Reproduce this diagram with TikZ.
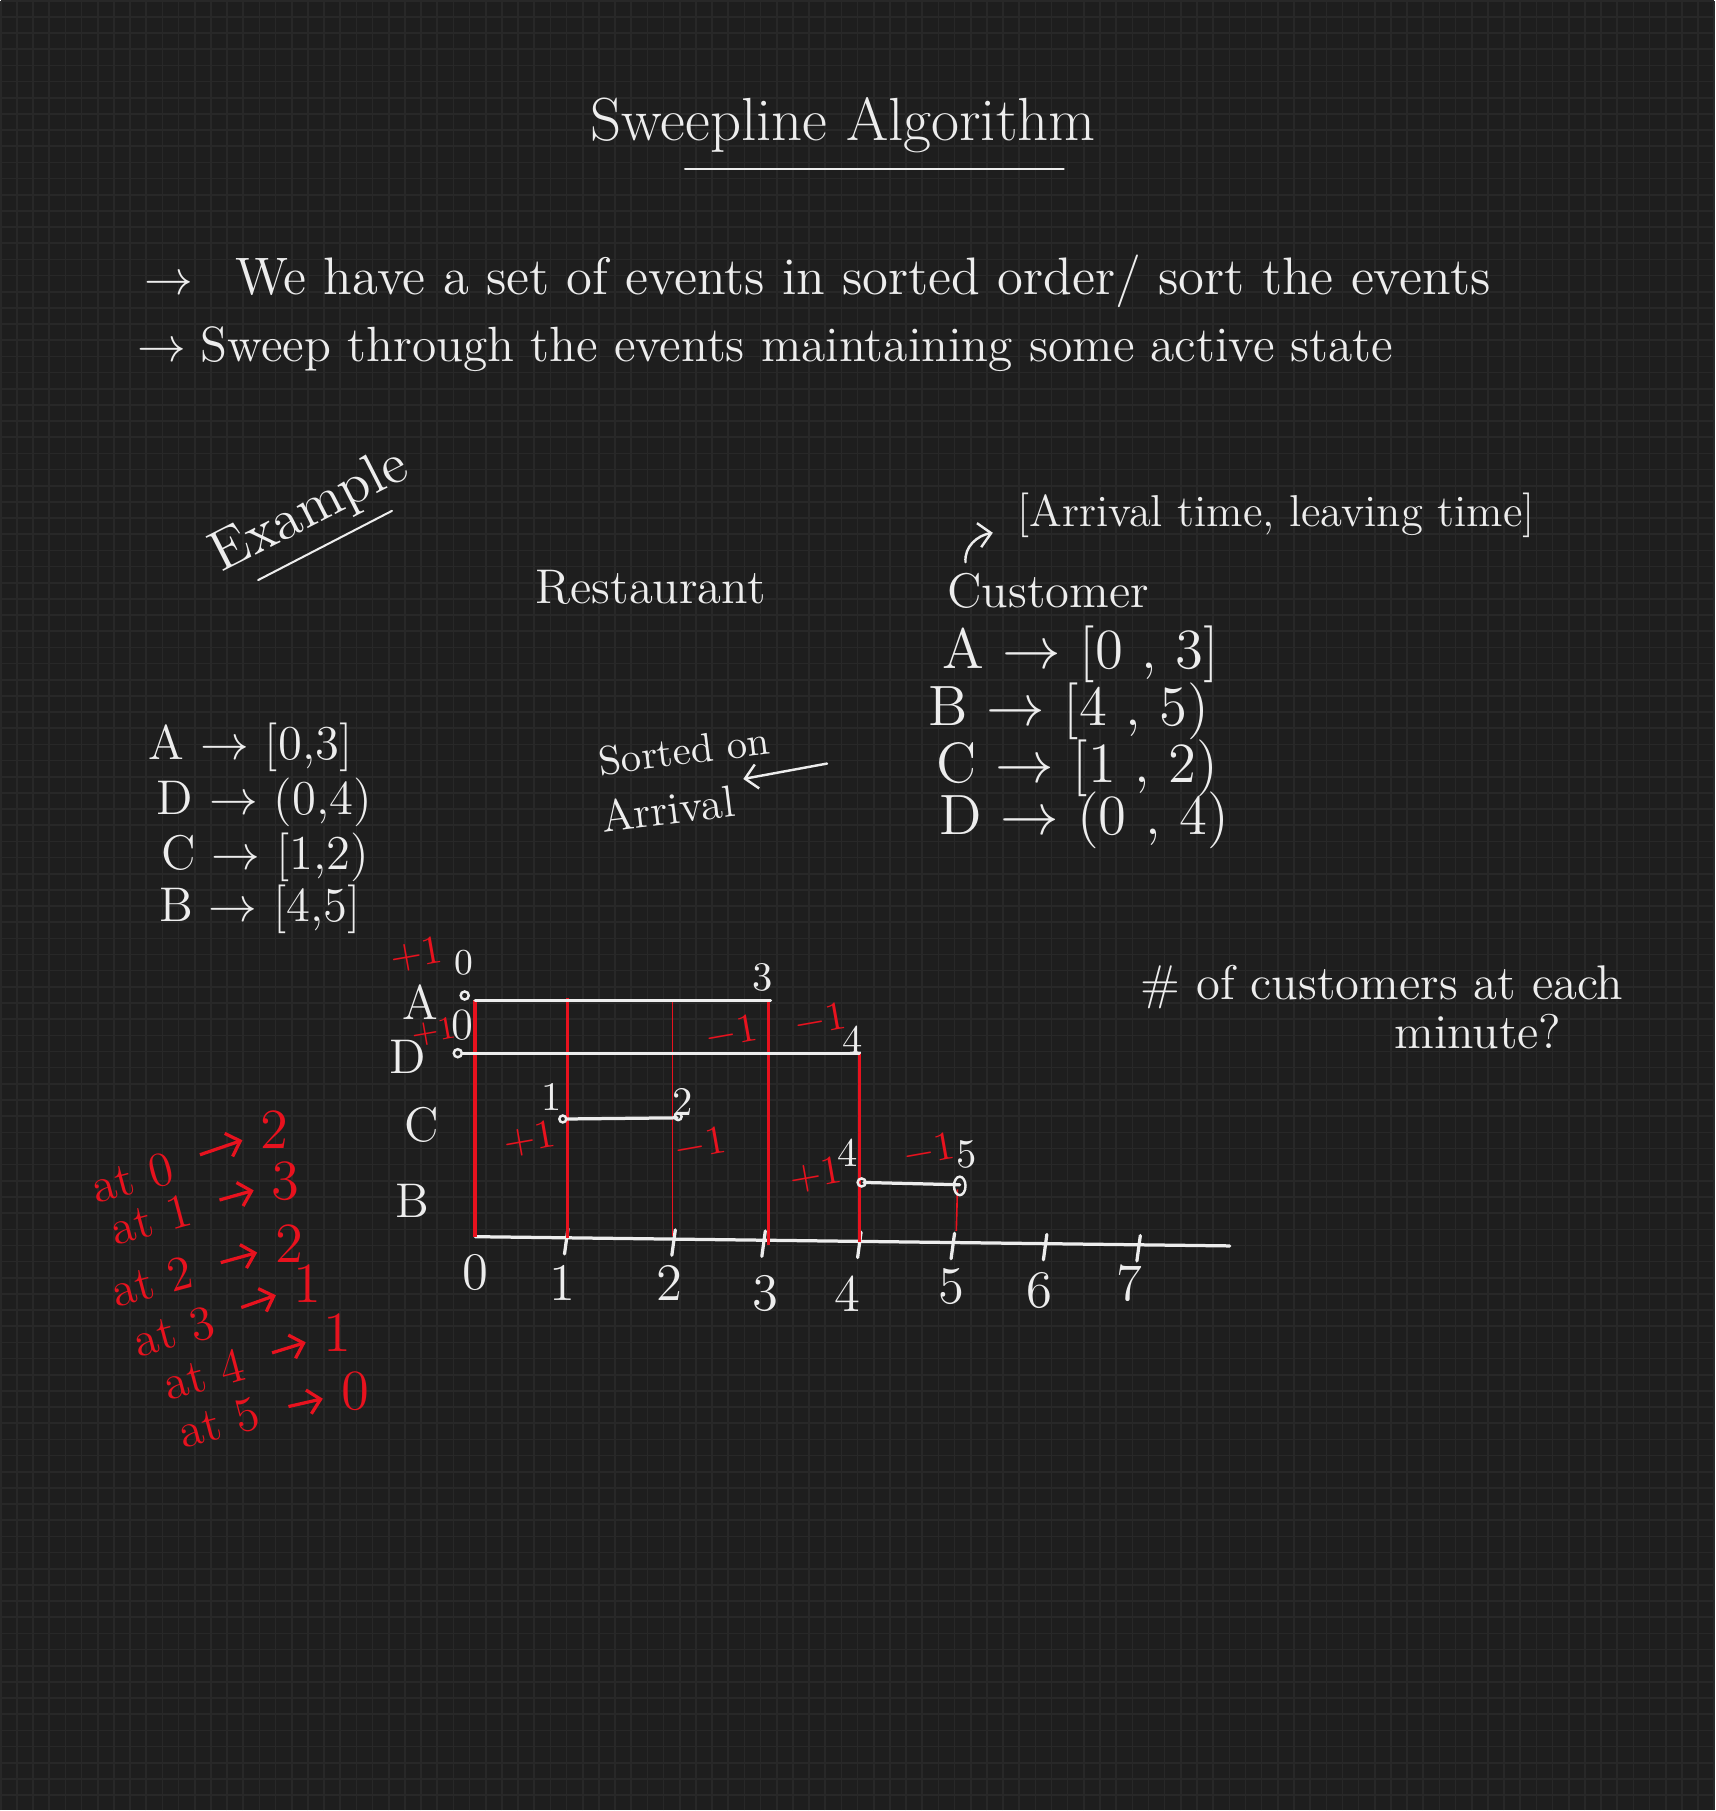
\documentclass[tikz,border=0pt]{standalone}
\usepackage{tikz}
\usetikzlibrary{arrows.meta}
\definecolor{board}{HTML}{1E1E1E}
\definecolor{boardgrid}{HTML}{282828}
\definecolor{chalk}{HTML}{EDEDED}
\definecolor{ink}{HTML}{E8121E}
\tikzset{
  chalkline/.style={draw=chalk,line width=0.8pt,line cap=round},
  redline/.style={draw=ink,line width=0.8pt},
  note/.style={text=chalk,inner sep=1pt},
  rednote/.style={text=ink,inner sep=1pt},
  hand/.style={-{Straight Barb[length=3pt,width=6pt]}},
}

\begin{document}
\begin{tikzpicture}[x=0.01cm,y=-0.01cm]
\fill[board] (0,0) rectangle (1485,1568);
\draw[boardgrid,line width=0.4pt,step=0.14cm] (0,0) grid (1485,1568);
\useasboundingbox (0,0) rectangle (1485,1568);

% heading and the two statements
\node[note,font=\fontsize{15}{18}\selectfont] (title) at (730,108) {Sweepline Algorithm};
\draw[chalkline,line width=0.6pt] (593,146) -- (921,146);
\node[note,anchor=west,font=\fontsize{13}{15}\selectfont] (idea1) at (120,243) {$\rightarrow$\hspace{0.8em}We have a set of events in sorted order/ sort the events};
\node[note,anchor=west,font=\fontsize{12.2}{15}\selectfont] (idea2) at (114,302) {$\rightarrow$\hspace{0.3em}Sweep through the events maintaining some active state};

% example
\node[note,rotate=27,font=\fontsize{14}{17}\selectfont] (ex) at (268,443) {Example};
\draw[chalkline,line width=0.5pt] (223,502) -- (339,442);
\node[note,font=\fontsize{12}{15}\selectfont] (rest) at (563,508) {Restaurant};

% customers as given
\node[note,font=\fontsize{11}{13}\selectfont] (tuple) at (1105,446) {[Arrival time, leaving time]};
\node[note,anchor=west,font=\fontsize{12}{14}\selectfont] (cust) at (816,511) {Customer};
\draw[chalkline,line width=0.6pt,hand] ([xshift=0.2cm,yshift=0.05cm]cust.north west) to[out=95,in=190] ([xshift=-0.17cm,yshift=-0.15cm]tuple.west);
\node[note,anchor=west,font=\fontsize{14}{16}\selectfont] (cA) at (812,566) {A $\rightarrow$ [0 , 3]};
\node[note,anchor=west,font=\fontsize{14}{16}\selectfont] (cB) at (800,616) {B $\rightarrow$ [4 , 5)};
\node[note,anchor=west,font=\fontsize{14}{16}\selectfont] (cC) at (807,665) {C $\rightarrow$ [1 , 2)};
\node[note,anchor=west,font=\fontsize{14}{16}\selectfont] (cD) at (809,710) {D $\rightarrow$ (0 , 4)};

% customers sorted
\node[note,anchor=west,font=\fontsize{12}{14}\selectfont] (sA) at (124,647) {A $\rightarrow$ [0,3]};
\node[note,anchor=west,font=\fontsize{12}{14}\selectfont] (sD) at (131,695) {D $\rightarrow$ (0,4)};
\node[note,anchor=west,font=\fontsize{12}{14}\selectfont] (sC) at (135,742) {C $\rightarrow$ [1,2)};
\node[note,anchor=west,font=\fontsize{12}{14}\selectfont] (sB) at (133,787) {B $\rightarrow$ [4,5]};
\node[note,rotate=7,font=\fontsize{10}{12}\selectfont] (sorted) at (592,650) {Sorted on};
\node[note,rotate=7,font=\fontsize{11}{13}\selectfont] (arrival) at (578,700) {Arrival};
\coordinate (sortfrom) at (716,661);
\draw[chalkline,line width=0.6pt,hand] (sortfrom) -- ([xshift=0.06cm]arrival.north east);

% time line
\coordinate (o) at (411,1071);
\coordinate (xend) at (1065,1079);
\draw[chalkline] (o) -- (xend);
\node[note,font=\fontsize{13}{15}\selectfont] (tick0) at (411,1102) {0};
\foreach \x/\lx/\ly/\lab in {490/487/1111/1,583/579/1111/2,661/663/1120/3,744/734/1120/4,825/824/1114/5,905/900/1118/6,986/978/1111/7}{
  \pgfmathsetmacro\ay{1071+(\x-411)*8/654}
  \draw[chalkline] (\x+1.5,\ay-8) -- (\x-1.5,\ay+14);
  \node[note,font=\fontsize{13}{15}\selectfont] (tick\lab) at (\lx,\ly) {\lab};
}

% sweep lines
\draw[redline] (411,866) -- (411,1071);
\draw[redline] (491,864) -- (491,1072);
\draw[redline,line width=0.4pt] (582,866) -- (582,1070);
\draw[redline] (665,866) -- (665,1078);
\draw[redline] (744,912) -- (744,1076);
\draw[redline,line width=0.4pt] (829,1030) -- (828,1066);

% intervals
\coordinate (A0) at (411,866);
\coordinate (A3) at (667,866);
\coordinate (D0) at (400,912);
\coordinate (D4) at (744,912);
\coordinate (C1) at (491,969);
\coordinate (C2) at (586,968);
\coordinate (B4) at (748,1024);
\coordinate (B5) at (831,1026);
\draw[chalkline] (A0) -- (A3);
\draw[chalkline] (D0) -- (D4);
\draw[chalkline] (C1) -- (C2);
\draw[chalkline] (B4) -- (B5);
\draw[chalk,line width=0.6pt] (402,862) circle (3.5);
\draw[chalk,line width=0.6pt] (396,912) circle (3.5);
\draw[chalk,line width=0.6pt] (487,969) circle (3);
\draw[chalk,line width=0.6pt] (587,967) circle (3);
\draw[chalk,line width=0.6pt] (746,1024) circle (3.5);
\draw[chalk,line width=0.6pt] (831,1027) ellipse (5 and 8);

% row names and end points
\node[note,font=\fontsize{12}{14}\selectfont] (rA) at (364,868) {A};
\node[note,font=\fontsize{12}{14}\selectfont] (rD) at (353,915) {D};
\node[note,font=\fontsize{12}{14}\selectfont] (rC) at (365,974) {C};
\node[note,font=\fontsize{12}{14}\selectfont] (rB) at (357,1040) {B};
\node[note,font=\fontsize{9}{11}\selectfont] (pA0) at (401,834) {0};
\node[note,font=\fontsize{11}{13}\selectfont] (pD0) at (400,888) {0};
\node[note,font=\fontsize{10}{12}\selectfont] (pA3) at (660,846) {3};
\node[note,font=\fontsize{10}{12}\selectfont] (pD4) at (738,900) {4};
\node[note,font=\fontsize{10}{12}\selectfont] (pC1) at (477,950) {1};
\node[note,font=\fontsize{10}{12}\selectfont] (pC2) at (591,954) {2};
\node[note,font=\fontsize{10}{12}\selectfont] (pB4) at (734,998) {4};
\node[note,font=\fontsize{10}{12}\selectfont] (pB5) at (837,1000) {5};

% counts
\node[rednote,rotate=10,font=\fontsize{10}{12}\selectfont] (dA0) at (360,827) {$+1$};
\node[rednote,rotate=10,font=\fontsize{8}{10}\selectfont] (dD0) at (375,894) {$+1$};
\node[rednote,rotate=10,font=\fontsize{10}{12}\selectfont] (dA3) at (633,895) {$-1$};
\node[rednote,rotate=10,font=\fontsize{10}{12}\selectfont] (dD4) at (710,884) {$-1$};
\node[rednote,rotate=10,font=\fontsize{10}{12}\selectfont] (dC1) at (458,987) {$+1$};
\node[rednote,rotate=10,font=\fontsize{10}{12}\selectfont] (dC2) at (606,992) {$-1$};
\node[rednote,rotate=10,font=\fontsize{10}{12}\selectfont] (dB4) at (706,1018) {$+1$};
\node[rednote,rotate=10,font=\fontsize{10}{12}\selectfont] (dB5) at (804,997) {$-1$};

% question
\node[note,font=\fontsize{12}{15}\selectfont] (q1) at (1197,855) {\# of customers at each};
\node[note,font=\fontsize{12}{15}\selectfont] (q2) at (1280,893) {minute?};

% answers
\foreach \i/\ax/\ay/\nx/\ny/\v in {0/114/1020/237/978/2,1/130/1056/247/1023/3,2/131/1110/250/1077/2,3/150/1153/266/1112/1,4/176/1190/292/1154/1,5/189/1232/307/1205/0}{
  \node[rednote,rotate=15,font=\fontsize{12}{14}\selectfont] (at\i) at (\ax,\ay) {at \i};
  \node[rednote,font=\fontsize{14}{16}\selectfont] (cnt\i) at (\nx,\ny) {\v};
  \draw[redline,hand,shorten <=0.22cm,shorten >=0.12cm] (at\i) -- (cnt\i);
}
\end{tikzpicture}
\end{document}
